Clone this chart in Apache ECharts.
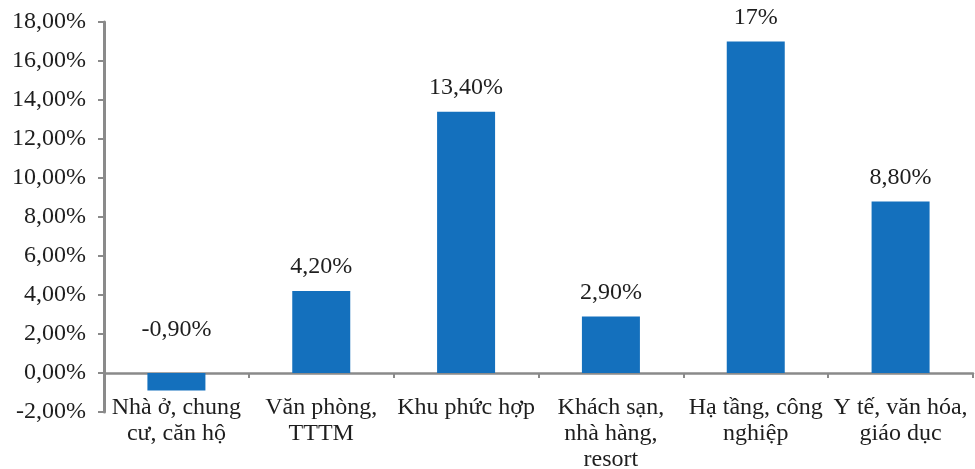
<!DOCTYPE html>
<html>
<head>
<meta charset="utf-8">
<script src="https://cdn.jsdelivr.net/npm/echarts@6/dist/echarts.min.js"></script>
<style>
  html, body { margin: 0; padding: 0; background: #fff; }
  #chart { width: 975px; height: 469px; }
</style>
</head>
<body>
<div id="chart"></div>
<script>
// Categories (line breaks as they wrap under the axis)
const categories = [
  'Nhà ở, chung\ncư, căn hộ',
  'Văn phòng,\nTTTM',
  'Khu phức hợp',
  'Khách sạn,\nnhà hàng,\nresort',
  'Hạ tầng, công\nnghiệp',
  'Y tế, văn hóa,\ngiáo dục'
];
// Growth values, in percent
const values = [-0.9, 4.2, 13.4, 2.9, 17, 8.8];
// Value axis range and step, in percent
const yMin = -2;
const yMax = 18;
const yStep = 2;

const FONT = '"Liberation Serif", "Times New Roman", serif';
const TEXT = '#1e1e1e';
const AXIS = '#8a8a8a';
const BAR = '#1470bd';

function pct(v) {
  return Number.isInteger(v) ? v + '%' : v.toFixed(2).replace('.', ',') + '%';
}

const chart = echarts.init(document.getElementById('chart'));
chart.setOption({
  animation: false,
  backgroundColor: '#fff',
  grid: { left: 104, right: 2, top: 22, bottom: 57, containLabel: false, outerBoundsMode: 'none' },
  xAxis: {
    type: 'category',
    data: categories,
    axisLine: { onZero: true, lineStyle: { color: AXIS, width: 2.5 } },
    axisTick: { show: true, length: 5, lineStyle: { color: AXIS, width: 2 } },
    axisLabel: {
      interval: 0,
      // category names sit just under the zero line, above the grid bottom
      margin: -17,
      color: TEXT,
      fontFamily: FONT,
      fontSize: 24,
      lineHeight: 26,
      align: 'center'
    }
  },
  yAxis: {
    type: 'value',
    min: yMin,
    max: yMax,
    interval: yStep,
    splitLine: { show: false },
    axisLine: { show: true, lineStyle: { color: AXIS, width: 3 } },
    axisTick: { show: true, length: 6, lineStyle: { color: AXIS, width: 2 } },
    axisLabel: {
      margin: 18,
      color: TEXT,
      fontFamily: FONT,
      fontSize: 24,
      formatter: v => v.toFixed(2).replace('.', ',') + '%'
    }
  },
  series: [{
    type: 'bar',
    data: values.map(v => ({
      value: v,
      label: { distance: v < 0 ? 31 : 12 }
    })),
    barWidth: 58,
    itemStyle: { color: BAR },
    label: {
      show: true,
      position: 'top',
      color: TEXT,
      fontFamily: FONT,
      fontSize: 24,
      formatter: p => pct(p.value)
    }
  }]
});
</script>
</body>
</html>
